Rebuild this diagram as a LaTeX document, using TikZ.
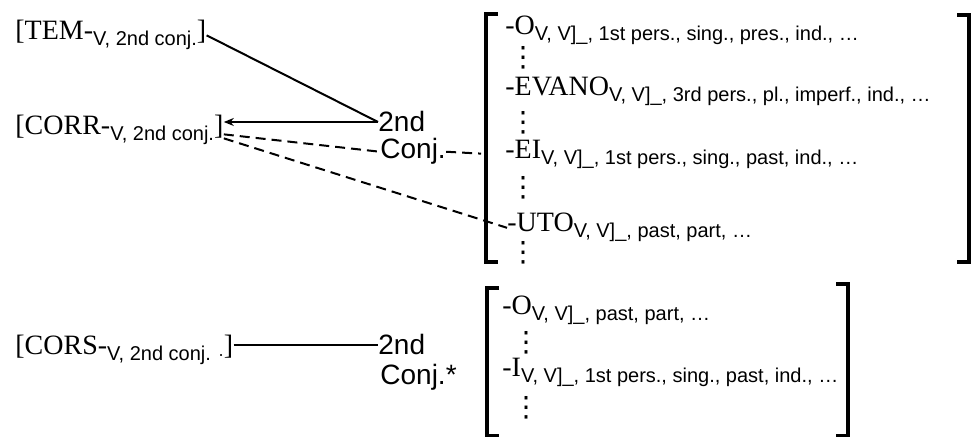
\documentclass[tikz,border=0pt]{standalone}
\usepackage{fontspec}
\setmainfont{Liberation Serif}
\newfontfamily\labfont{Liberation Sans}
\newfontfamily\dotfont{DejaVu Sans}
\usetikzlibrary{positioning, arrows.meta}
\newcommand{\feat}[1]{\raisebox{-3pt}{\labfont\fontsize{10}{11}\selectfont #1}}
\tikzset{
  stem/.style={anchor=base west, inner sep=0pt, font=\fontsize{14}{15}\selectfont},
  conjlab/.style={anchor=base west, inner sep=0pt, font=\labfont\fontsize{14}{15}\selectfont},
  ending/.style={anchor=base west, inner sep=0pt, font=\fontsize{14}{15}\selectfont},
  gap/.style={anchor=base, inner sep=0pt, font=\dotfont\fontsize{14}{14}\selectfont},
  link/.style={line width=1pt},
  dlink/.style={line width=1pt, dash pattern=on 5pt off 3pt},
  bracket/.style={line width=1.7pt}
}
\begin{document}
\begin{tikzpicture}[x=0.5pt, y=-0.5pt]
            \useasboundingbox (0,0) rectangle (974,437);
            % Stems
            \node[stem] (tem) at (15,40) {[TEM-\feat{V, 2nd conj.}]};
            \node[stem] (corr) at (15,135) {[CORR-\feat{V, 2nd conj.}]};
            \node[stem] (cors) at (15,355) {[CORS-\feat{V, 2nd conj. $\cdot$}]};

            % Conjugation labels
            \node[conjlab] (sec) at (378,132) {2nd};
            \node[conjlab] (cj) at (380,159) {Conj.};
            \node[conjlab] (sec2) at (378,355) {2nd};
            \node[conjlab] (cj2) at (380,385) {Conj.*};

            % Endings, upper block
            \node[ending] (o) at (505,35) {-O\feat{V, V]\_, 1st pers., sing., pres., ind., \dots}};
            \node[gap] (d1) at (523,67) {⋮};
            \node[ending] (evano) at (505,96) {-EVANO\feat{V, V]\_, 3rd pers., pl., imperf., ind., \dots}};
            \node[gap] (d2) at (523,132) {⋮};
            \node[ending] (ei) at (505,159) {-EI\feat{V, V]\_, 1st pers., sing., past, ind., \dots}};
            \node[gap] (d3) at (523,197) {⋮};
            \node[ending] (uto) at (507,232) {-UTO\feat{V, V]\_, past, part, \dots}};
            \node[gap] (d4) at (523,262) {⋮};

            % Endings, lower block
            \node[ending] (o2) at (502,315) {-O\feat{V, V]\_, past, part, \dots}};
            \node[gap] (e1) at (526,352) {⋮};
            \node[ending] (i2) at (502,377) {-I\feat{V, V]\_, 1st pers., sing., past, ind., \dots}};
            \node[gap] (e2) at (526,417) {⋮};

            % Brackets
            \draw[bracket] (498,14) -| (486,262) -- (498,262);
            \draw[bracket] (957,15) -| (969,262) -- (957,262);
            \draw[bracket] (499,288) -| (487,436) -- (499,436);
            \draw[bracket] (836,284) -| (848,436) -- (836,436);

            % Links
            \draw[link] (tem.east) -- (sec.west);
            \draw[link, -{Stealth[length=5pt, width=4pt]}] (sec.west) -- (corr.east |- sec.west);
            \draw[dlink] ([yshift=-2pt]corr.east) -- (cj.west);
            \draw[dlink] ([yshift=-4pt]corr.east) -- (uto.west);
            \draw[dlink, shorten >=12pt] (cj.east) -- (ei.west);
            \draw[link] (cors.east |- sec2.west) -- (sec2.west);
        \end{tikzpicture}
\end{document}
